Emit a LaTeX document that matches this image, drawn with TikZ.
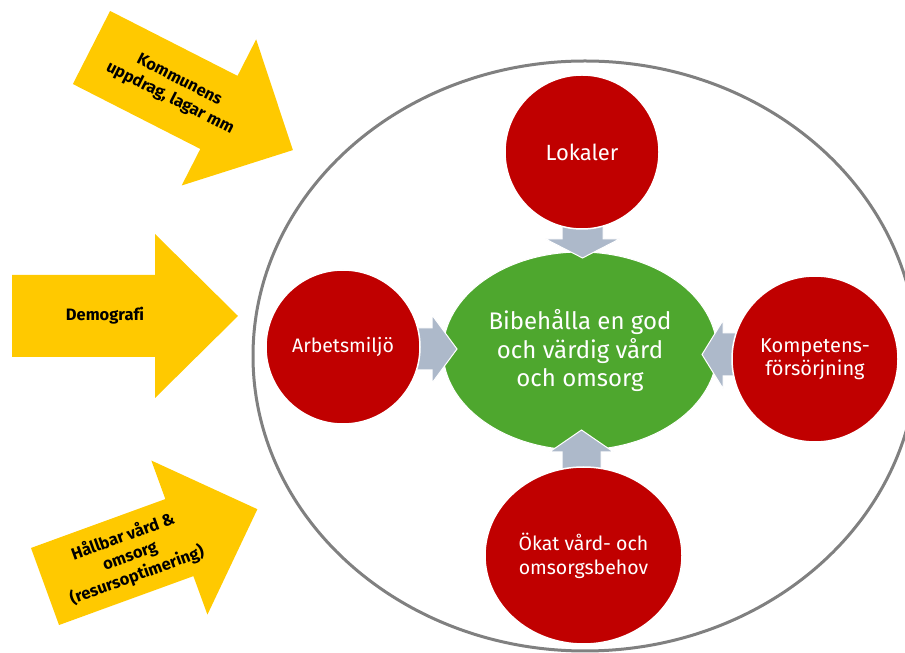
\documentclass[tikz,border=0pt]{standalone}
\usepackage{fontspec}
\setmainfont{Fira Sans}[Ligatures=NoCommon]
\usetikzlibrary{shapes.geometric}
\definecolor{ylw}{HTML}{FFC900}
\definecolor{redc}{HTML}{C00000}
\definecolor{grn}{HTML}{4EA72E}
\definecolor{garr}{HTML}{ADB9CA}
\definecolor{frame}{HTML}{808080}
\tikzset{
  pics/blk/.style args={#1/#2/#3/#4}{code={
    \path[pic actions] (0,-#2) -- (#4,-#2) -- (#4,-#3) -- (#1,0) -- (#4,#3) -- (#4,#2) -- (0,#2) -- cycle;}},
  yarrow/.style={fill=ylw},
  garrow/.style={fill=garr, draw=white, line width=1pt},
  redball/.style={circle, fill=redc, draw=white, line width=1.5pt, text=white, align=center, inner sep=0pt, font=\fontsize{19.5}{24}\selectfont},
  ytext/.style={align=center, text=black, font=\bfseries\fontsize{16.5}{20.5}\selectfont},
}
\begin{document}
\begin{tikzpicture}[x=1pt,y=1pt]
\useasboundingbox (0,0) rectangle (905,653);
% outer frame
\node[ellipse, draw=frame, line width=3pt, fill=white, minimum width=664pt, minimum height=590pt, inner sep=0pt] (outer) at (585,297) {};
% central goal
\node[ellipse, fill=grn, draw=white, line width=1pt, minimum width=274pt, minimum height=198pt, inner sep=0pt, text=white, align=center, font=\fontsize{24}{28.5}\selectfont] (goal) at (580,302) {Bibehålla en god\\och värdig vård\\och omsorg};
% grey arrows
\pic[garrow, rotate=-90] at (582.5,430) {blk={35/20.5/37/16}};
\pic[garrow] at (410,304) {blk={47/21/34/22}};
\pic[garrow, rotate=180] at (745,298.5) {blk={43/21.5/34/22}};
\pic[garrow, rotate=90] at (581.5,180) {blk={43/19.5/32/21}};
% red factors
\node[redball, minimum size=154pt, font=\fontsize{22}{24}\selectfont] (lok) at (582,501) {Lokaler};
\node[redball, minimum size=154pt] (arb) at (343,306) {Arbetsmiljö};
\node[redball, minimum size=166pt, font=\fontsize{20}{22.5}\selectfont] (komp) at (815,294) {Kompetens-\\försörjning};
\node[redball, ellipse, minimum width=197pt, minimum height=177pt] (okat) at (583.5,97.5) {Ökat vård- och\\omsorgsbehov};
% yellow arrows
\pic[yarrow, rotate=-27] at (91.5,605.5) {blk={226/41/82/143}};
\pic[yarrow] at (12,337) {blk={226/41/82/143}};
\pic[yarrow, rotate=20] at (45,66.5) {blk={226/41/82/143}};
\node[ytext, rotate=-27] (kom) at (174.4,563.3) {Kommunens\\uppdrag, lagar mm};
\node[ytext] (dem) at (105,337) {Demografi};
\node[ytext, rotate=20] (hal) at (130,97) {Hållbar vård \&\\omsorg\\(resursoptimering)};
\end{tikzpicture}
\end{document}
